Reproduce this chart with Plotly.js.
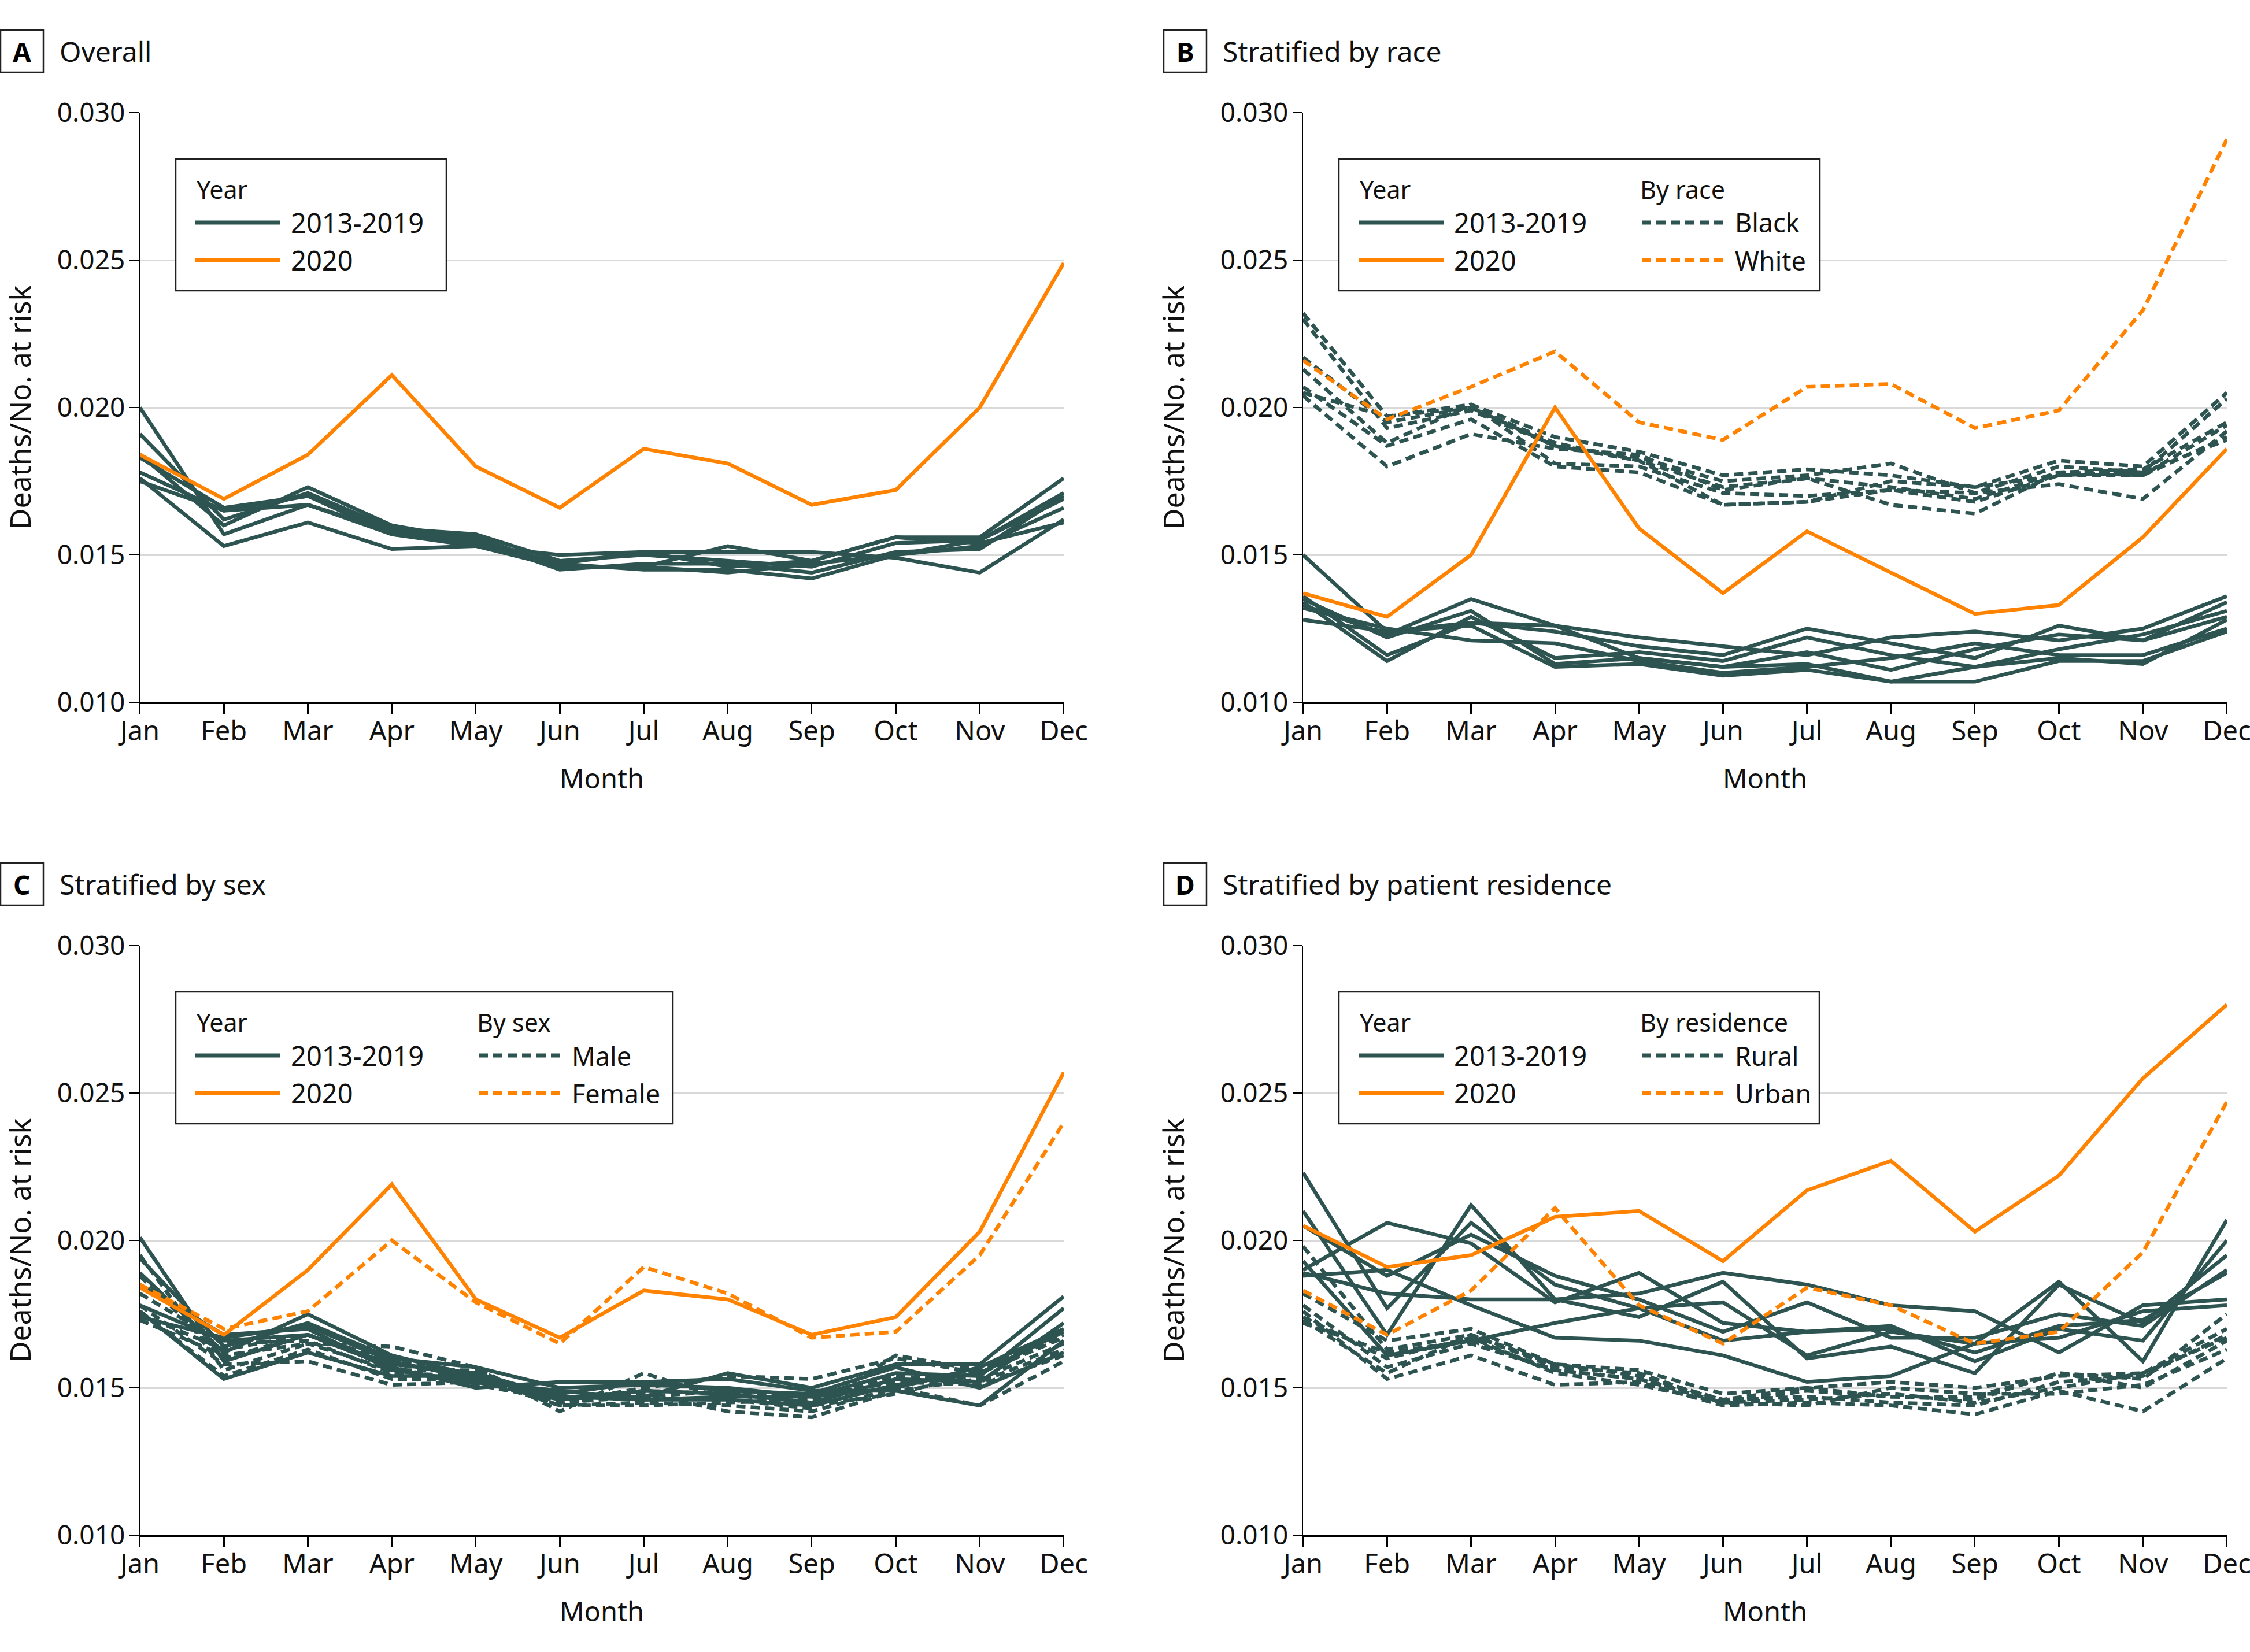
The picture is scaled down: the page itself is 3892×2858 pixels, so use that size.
<!DOCTYPE html>
<html>
<head>
<meta charset="utf-8">
<script src="https://cdn.plot.ly/plotly-3.0.1.min.js"></script>
<style>
html,body{margin:0;padding:0;background:#ffffff;}
#chart{width:3892px;height:2858px;}
</style>
</head>
<body>
<div id="chart"></div>
<script>
// ---------------- DATA ----------------
const months = ['Jan','Feb','Mar','Apr','May','Jun','Jul','Aug','Sep','Oct','Nov','Dec'];
const yTickVals = [0.010, 0.015, 0.020, 0.025, 0.030];
const yTickText = ['0.010', '0.015', '0.020', '0.025', '0.030'];

// Panel A: Overall
const overall2020 = [0.0184, 0.0169, 0.0184, 0.0211, 0.0180, 0.0166, 0.0186, 0.0181, 0.0167, 0.0172, 0.0200, 0.0249];
const overallPrior = [
  [0.0200, 0.0157, 0.0167, 0.0158, 0.0156, 0.0146, 0.0146, 0.0153, 0.0148, 0.0156, 0.0156, 0.0176],
  [0.0191, 0.0162, 0.0171, 0.0159, 0.0157, 0.0148, 0.0150, 0.0148, 0.0146, 0.0154, 0.0155, 0.0171],
  [0.0184, 0.0160, 0.0173, 0.0160, 0.0155, 0.0145, 0.0147, 0.0147, 0.0144, 0.0151, 0.0152, 0.0170],
  [0.0183, 0.0166, 0.0170, 0.0157, 0.0154, 0.0147, 0.0145, 0.0145, 0.0142, 0.0150, 0.0153, 0.0166],
  [0.0178, 0.0165, 0.0167, 0.0157, 0.0153, 0.0150, 0.0151, 0.0151, 0.0151, 0.0149, 0.0144, 0.0162],
  [0.0176, 0.0153, 0.0161, 0.0152, 0.0153, 0.0146, 0.0146, 0.0144, 0.0147, 0.0150, 0.0155, 0.0169],
  [0.0175, 0.0165, 0.0170, 0.0158, 0.0155, 0.0147, 0.0151, 0.0146, 0.0148, 0.0156, 0.0154, 0.0161]
];

// Panel B: Stratified by race
const raceDashed2020 = [0.0216, 0.0196, 0.0207, 0.0219, 0.0195, 0.0189, 0.0207, 0.0208, 0.0193, 0.0199, 0.0233, 0.0291];
const raceSolid2020  = [0.0137, 0.0129, 0.0150, 0.0200, 0.0159, 0.0137, 0.0158, 0.0144, 0.0130, 0.0133, 0.0156, 0.0186];
const raceDashedPrior = [
  [0.0232, 0.0197, 0.0201, 0.0190, 0.0185, 0.0177, 0.0179, 0.0177, 0.0173, 0.0182, 0.0180, 0.0205],
  [0.0230, 0.0193, 0.0199, 0.0187, 0.0183, 0.0175, 0.0177, 0.0181, 0.0171, 0.0180, 0.0178, 0.0203],
  [0.0217, 0.0195, 0.0200, 0.0188, 0.0182, 0.0173, 0.0176, 0.0173, 0.0169, 0.0178, 0.0179, 0.0195],
  [0.0213, 0.0188, 0.0201, 0.0181, 0.0180, 0.0171, 0.0170, 0.0172, 0.0168, 0.0177, 0.0177, 0.0194],
  [0.0207, 0.0187, 0.0196, 0.0180, 0.0178, 0.0167, 0.0168, 0.0172, 0.0171, 0.0174, 0.0169, 0.0192],
  [0.0204, 0.0180, 0.0191, 0.0186, 0.0184, 0.0172, 0.0176, 0.0167, 0.0164, 0.0178, 0.0177, 0.0190],
  [0.0205, 0.0197, 0.0200, 0.0187, 0.0182, 0.0167, 0.0168, 0.0175, 0.0173, 0.0177, 0.0178, 0.0189]
];
const raceSolidPrior = [
  [0.0150, 0.0124, 0.0127, 0.0126, 0.0122, 0.0119, 0.0116, 0.0122, 0.0124, 0.0121, 0.0125, 0.0136],
  [0.0136, 0.0116, 0.0127, 0.0124, 0.0119, 0.0116, 0.0125, 0.0120, 0.0115, 0.0126, 0.0121, 0.0134],
  [0.0134, 0.0114, 0.0129, 0.0115, 0.0117, 0.0114, 0.0122, 0.0116, 0.0112, 0.0118, 0.0123, 0.0131],
  [0.0133, 0.0123, 0.0135, 0.0126, 0.0115, 0.0112, 0.0117, 0.0111, 0.0118, 0.0123, 0.0121, 0.0129],
  [0.0132, 0.0125, 0.0121, 0.0120, 0.0114, 0.0110, 0.0112, 0.0115, 0.0120, 0.0116, 0.0116, 0.0125],
  [0.0128, 0.0124, 0.0126, 0.0112, 0.0113, 0.0109, 0.0111, 0.0107, 0.0107, 0.0114, 0.0114, 0.0124],
  [0.0135, 0.0122, 0.0131, 0.0113, 0.0115, 0.0112, 0.0113, 0.0107, 0.0112, 0.0115, 0.0113, 0.0128]
];

// Panel C: Stratified by sex
const sexSolid2020  = [0.0184, 0.0168, 0.0190, 0.0219, 0.0180, 0.0167, 0.0183, 0.0180, 0.0168, 0.0174, 0.0203, 0.0257];
const sexDashed2020 = [0.0185, 0.0170, 0.0176, 0.0200, 0.0179, 0.0165, 0.0191, 0.0182, 0.0167, 0.0169, 0.0195, 0.0240];
const sexSolidPrior = [
  [0.0201, 0.0159, 0.0168, 0.0158, 0.0155, 0.0147, 0.0147, 0.0155, 0.0150, 0.0158, 0.0158, 0.0181],
  [0.0194, 0.0164, 0.0172, 0.0160, 0.0157, 0.0150, 0.0151, 0.0150, 0.0147, 0.0155, 0.0154, 0.0177],
  [0.0189, 0.0162, 0.0175, 0.0161, 0.0154, 0.0146, 0.0149, 0.0148, 0.0145, 0.0153, 0.0152, 0.0172],
  [0.0185, 0.0168, 0.0170, 0.0156, 0.0152, 0.0149, 0.0146, 0.0146, 0.0144, 0.0151, 0.0155, 0.0169],
  [0.0178, 0.0166, 0.0168, 0.0157, 0.0150, 0.0152, 0.0152, 0.0153, 0.0149, 0.0149, 0.0144, 0.0166],
  [0.0176, 0.0153, 0.0162, 0.0154, 0.0154, 0.0147, 0.0146, 0.0147, 0.0147, 0.0150, 0.0157, 0.0170],
  [0.0174, 0.0167, 0.0171, 0.0159, 0.0153, 0.0148, 0.0152, 0.0149, 0.0148, 0.0157, 0.0150, 0.0162]
];
const sexDashedPrior = [
  [0.0195, 0.0156, 0.0165, 0.0164, 0.0157, 0.0142, 0.0155, 0.0146, 0.0143, 0.0161, 0.0156, 0.0170],
  [0.0188, 0.0160, 0.0168, 0.0159, 0.0155, 0.0145, 0.0150, 0.0154, 0.0153, 0.0160, 0.0155, 0.0168],
  [0.0182, 0.0165, 0.0166, 0.0155, 0.0154, 0.0144, 0.0145, 0.0144, 0.0142, 0.0150, 0.0144, 0.0159],
  [0.0178, 0.0158, 0.0159, 0.0151, 0.0152, 0.0146, 0.0148, 0.0142, 0.0140, 0.0149, 0.0153, 0.0165],
  [0.0176, 0.0154, 0.0163, 0.0153, 0.0153, 0.0144, 0.0144, 0.0145, 0.0146, 0.0154, 0.0152, 0.0163],
  [0.0175, 0.0163, 0.0168, 0.0157, 0.0151, 0.0146, 0.0149, 0.0148, 0.0144, 0.0148, 0.0155, 0.0167],
  [0.0173, 0.0161, 0.0165, 0.0156, 0.0156, 0.0145, 0.0147, 0.0149, 0.0147, 0.0152, 0.0151, 0.0161]
];

// Panel D: Stratified by patient residence
const resSolid2020  = [0.0205, 0.0191, 0.0195, 0.0208, 0.0210, 0.0193, 0.0217, 0.0227, 0.0203, 0.0222, 0.0255, 0.0280];
const resDashed2020 = [0.0183, 0.0168, 0.0183, 0.0211, 0.0178, 0.0165, 0.0184, 0.0178, 0.0165, 0.0169, 0.0196, 0.0247];
const resSolidPrior = [
  [0.0223, 0.0177, 0.0206, 0.0185, 0.0177, 0.0179, 0.0161, 0.0169, 0.0165, 0.0186, 0.0159, 0.0207],
  [0.0210, 0.0168, 0.0212, 0.0180, 0.0174, 0.0186, 0.0160, 0.0164, 0.0155, 0.0185, 0.0172, 0.0195],
  [0.0205, 0.0188, 0.0202, 0.0188, 0.0180, 0.0169, 0.0179, 0.0167, 0.0167, 0.0175, 0.0171, 0.0190],
  [0.0190, 0.0206, 0.0199, 0.0179, 0.0189, 0.0172, 0.0169, 0.0171, 0.0159, 0.0170, 0.0166, 0.0200],
  [0.0189, 0.0182, 0.0180, 0.0180, 0.0182, 0.0189, 0.0185, 0.0178, 0.0176, 0.0162, 0.0178, 0.0180],
  [0.0188, 0.0190, 0.0178, 0.0167, 0.0166, 0.0161, 0.0152, 0.0154, 0.0165, 0.0167, 0.0176, 0.0178],
  [0.0193, 0.0161, 0.0166, 0.0172, 0.0177, 0.0166, 0.0169, 0.0170, 0.0162, 0.0171, 0.0173, 0.0189]
];
const resDashedPrior = [
  [0.0198, 0.0163, 0.0168, 0.0157, 0.0155, 0.0145, 0.0149, 0.0147, 0.0146, 0.0155, 0.0153, 0.0175],
  [0.0182, 0.0166, 0.0170, 0.0158, 0.0156, 0.0148, 0.0150, 0.0152, 0.0150, 0.0154, 0.0155, 0.0170],
  [0.0178, 0.0157, 0.0165, 0.0156, 0.0153, 0.0146, 0.0147, 0.0145, 0.0144, 0.0152, 0.0154, 0.0168],
  [0.0176, 0.0153, 0.0161, 0.0151, 0.0152, 0.0144, 0.0145, 0.0144, 0.0141, 0.0149, 0.0142, 0.0160],
  [0.0174, 0.0160, 0.0167, 0.0155, 0.0151, 0.0145, 0.0144, 0.0150, 0.0148, 0.0148, 0.0151, 0.0163],
  [0.0173, 0.0155, 0.0168, 0.0158, 0.0154, 0.0146, 0.0150, 0.0147, 0.0147, 0.0155, 0.0150, 0.0166],
  [0.0172, 0.0162, 0.0166, 0.0156, 0.0153, 0.0145, 0.0146, 0.0148, 0.0145, 0.0150, 0.0155, 0.0167]
];

// ---------------- STYLE ----------------
const W = 3892, H = 2858;
const FONT = 'Noto Sans, Open Sans, DejaVu Sans, sans-serif';
const DARK = '#2d5451';
const ORANGE = '#ff8200';
const DASH = '16px,9px';
const LW = 6.5;

function px(x) { return x / W; }
function py(y) { return 1 - y / H; }

const traces = [];
function addLine(yvals, axisIdx, color, dash) {
  const suf = axisIdx === 1 ? '' : String(axisIdx);
  traces.push({
    type: 'scatter', mode: 'lines', x: months, y: yvals,
    xaxis: 'x' + suf, yaxis: 'y' + suf,
    line: { color: color, width: LW, dash: dash || 'solid' },
    showlegend: false, hoverinfo: 'skip'
  });
}

// Panel A
overallPrior.forEach(s => addLine(s, 1, DARK));
addLine(overall2020, 1, ORANGE);
// Panel B
raceDashedPrior.forEach(s => addLine(s, 2, DARK, DASH));
raceSolidPrior.forEach(s => addLine(s, 2, DARK));
addLine(raceSolid2020, 2, ORANGE);
addLine(raceDashed2020, 2, ORANGE, DASH);
// Panel C
sexSolidPrior.forEach(s => addLine(s, 3, DARK));
sexDashedPrior.forEach(s => addLine(s, 3, DARK, DASH));
addLine(sexSolid2020, 3, ORANGE);
addLine(sexDashed2020, 3, ORANGE, DASH);
// Panel D
resSolidPrior.forEach(s => addLine(s, 4, DARK));
resDashedPrior.forEach(s => addLine(s, 4, DARK, DASH));
addLine(resSolid2020, 4, ORANGE);
addLine(resDashed2020, 4, ORANGE, DASH);

// panel geometry (px): plot left, plot right, plot top, plot bottom
const panels = [
  { letter: 'A', title: 'Overall', l: 242, r: 1840, t: 195, b: 1215, col2: null, boxR: 530 },
  { letter: 'B', title: 'Stratified by race', l: 2254, r: 3852, t: 195, b: 1215, col2: { head: 'By race', items: ['Black', 'White'] }, boxR: 894 },
  { letter: 'C', title: 'Stratified by sex', l: 242, r: 1840, t: 1636, b: 2656, col2: { head: 'By sex', items: ['Male', 'Female'] }, boxR: 922 },
  { letter: 'D', title: 'Stratified by patient residence', l: 2254, r: 3852, t: 1636, b: 2656, col2: { head: 'By residence', items: ['Rural', 'Urban'] }, boxR: 893 }
];

function xAxis(p) {
  return {
    domain: [px(p.l), px(p.r)], anchor: 'y', type: 'category', range: [0, 11],
    showgrid: false, zeroline: false, showline: true, linecolor: '#000', linewidth: 2.5,
    ticks: 'outside', ticklen: 17, tickwidth: 2.5, tickcolor: '#000',
    ticklabelstandoff: -10,
    tickfont: { family: FONT, size: 47, color: '#111' },
    title: { text: 'Month', font: { family: FONT, size: 47, color: '#111' }, standoff: 37 },
    fixedrange: true
  };
}
function yAxis(p) {
  return {
    domain: [py(p.b), py(p.t)], range: [0.010, 0.030],
    tickmode: 'array', tickvals: yTickVals, ticktext: yTickText,
    showgrid: true, gridcolor: '#d9d9d9', gridwidth: 3,
    zeroline: false, showline: true, linecolor: '#000', linewidth: 2.5,
    ticks: 'outside', ticklen: 16, tickwidth: 2.5, tickcolor: '#000',
    ticklabelstandoff: -2,
    tickfont: { family: FONT, size: 46, color: '#111' },
    title: { text: 'Deaths/No. at risk', font: { family: FONT, size: 50, color: '#111' }, standoff: 46 },
    fixedrange: true
  };
}

const layout = {
  width: W, height: H,
  margin: { l: 0, r: 0, t: 0, b: 0, pad: 0 },
  paper_bgcolor: '#ffffff', plot_bgcolor: 'rgba(0,0,0,0)',
  showlegend: false,
  font: { family: FONT, color: '#111' },
  shapes: [], annotations: []
};

panels.forEach((p, i) => {
  const suf = i === 0 ? '' : String(i + 1);
  const xa = xAxis(p); xa.anchor = 'y' + suf;
  const ya = yAxis(p); ya.anchor = 'x' + suf;
  layout['xaxis' + suf] = xa;
  layout['yaxis' + suf] = ya;

  const ox = p.l, oy = p.t;
  // panel letter box
  layout.shapes.push({ type: 'rect', xref: 'paper', yref: 'paper',
    x0: px(ox - 241), x1: px(ox - 167), y0: py(oy - 143), y1: py(oy - 70),
    line: { color: '#222', width: 2.5 }, fillcolor: '#ffffff', layer: 'above' });
  layout.annotations.push({ xref: 'paper', yref: 'paper', x: px(ox - 204), y: py(oy - 106),
    xanchor: 'center', yanchor: 'middle', showarrow: false, text: '<b>' + p.letter + '</b>',
    font: { family: FONT, size: 46, color: '#000' } });
  layout.annotations.push({ xref: 'paper', yref: 'paper', x: px(ox - 141), y: py(oy - 107),
    xanchor: 'left', yanchor: 'middle', showarrow: false, text: p.title,
    font: { family: FONT, size: 48, color: '#111' } });

  // legend box
  layout.shapes.push({ type: 'rect', xref: 'paper', yref: 'paper',
    x0: px(ox + 62), x1: px(ox + p.boxR), y0: py(oy + 80), y1: py(oy + 308),
    line: { color: '#222', width: 2.5 }, fillcolor: '#ffffff', layer: 'above' });
  const headY = oy + 132, row1 = oy + 190, row2 = oy + 255;
  layout.annotations.push({ xref: 'paper', yref: 'paper', x: px(ox + 96), y: py(headY),
    xanchor: 'left', yanchor: 'middle', showarrow: false, text: 'Year',
    font: { family: FONT, size: 43, color: '#111' } });
  const sampleRows = [
    { y: row1, color: DARK, label: '2013-2019' },
    { y: row2, color: ORANGE, label: '2020' }
  ];
  sampleRows.forEach(s => {
    layout.shapes.push({ type: 'line', xref: 'paper', yref: 'paper',
      x0: px(ox + 96), x1: px(ox + 243), y0: py(s.y), y1: py(s.y),
      line: { color: s.color, width: 7 }, layer: 'above' });
    layout.annotations.push({ xref: 'paper', yref: 'paper', x: px(ox + 259), y: py(s.y),
      xanchor: 'left', yanchor: 'middle', showarrow: false, text: s.label,
      font: { family: FONT, size: 47, color: '#111' } });
  });
  if (p.col2) {
    layout.annotations.push({ xref: 'paper', yref: 'paper', x: px(ox + 581), y: py(headY),
      xanchor: 'left', yanchor: 'middle', showarrow: false, text: p.col2.head,
      font: { family: FONT, size: 43, color: '#111' } });
    [{ y: row1, color: DARK }, { y: row2, color: ORANGE }].forEach((s, k) => {
      layout.shapes.push({ type: 'line', xref: 'paper', yref: 'paper',
        x0: px(ox + 586), x1: px(ox + 728), y0: py(s.y), y1: py(s.y),
        line: { color: s.color, width: 7, dash: DASH }, layer: 'above' });
      layout.annotations.push({ xref: 'paper', yref: 'paper', x: px(ox + 745), y: py(s.y),
        xanchor: 'left', yanchor: 'middle', showarrow: false, text: p.col2.items[k],
        font: { family: FONT, size: 45, color: '#111' } });
    });
  }
});

Plotly.newPlot('chart', traces, layout, { staticPlot: true, displayModeBar: false });
</script>
</body>
</html>
